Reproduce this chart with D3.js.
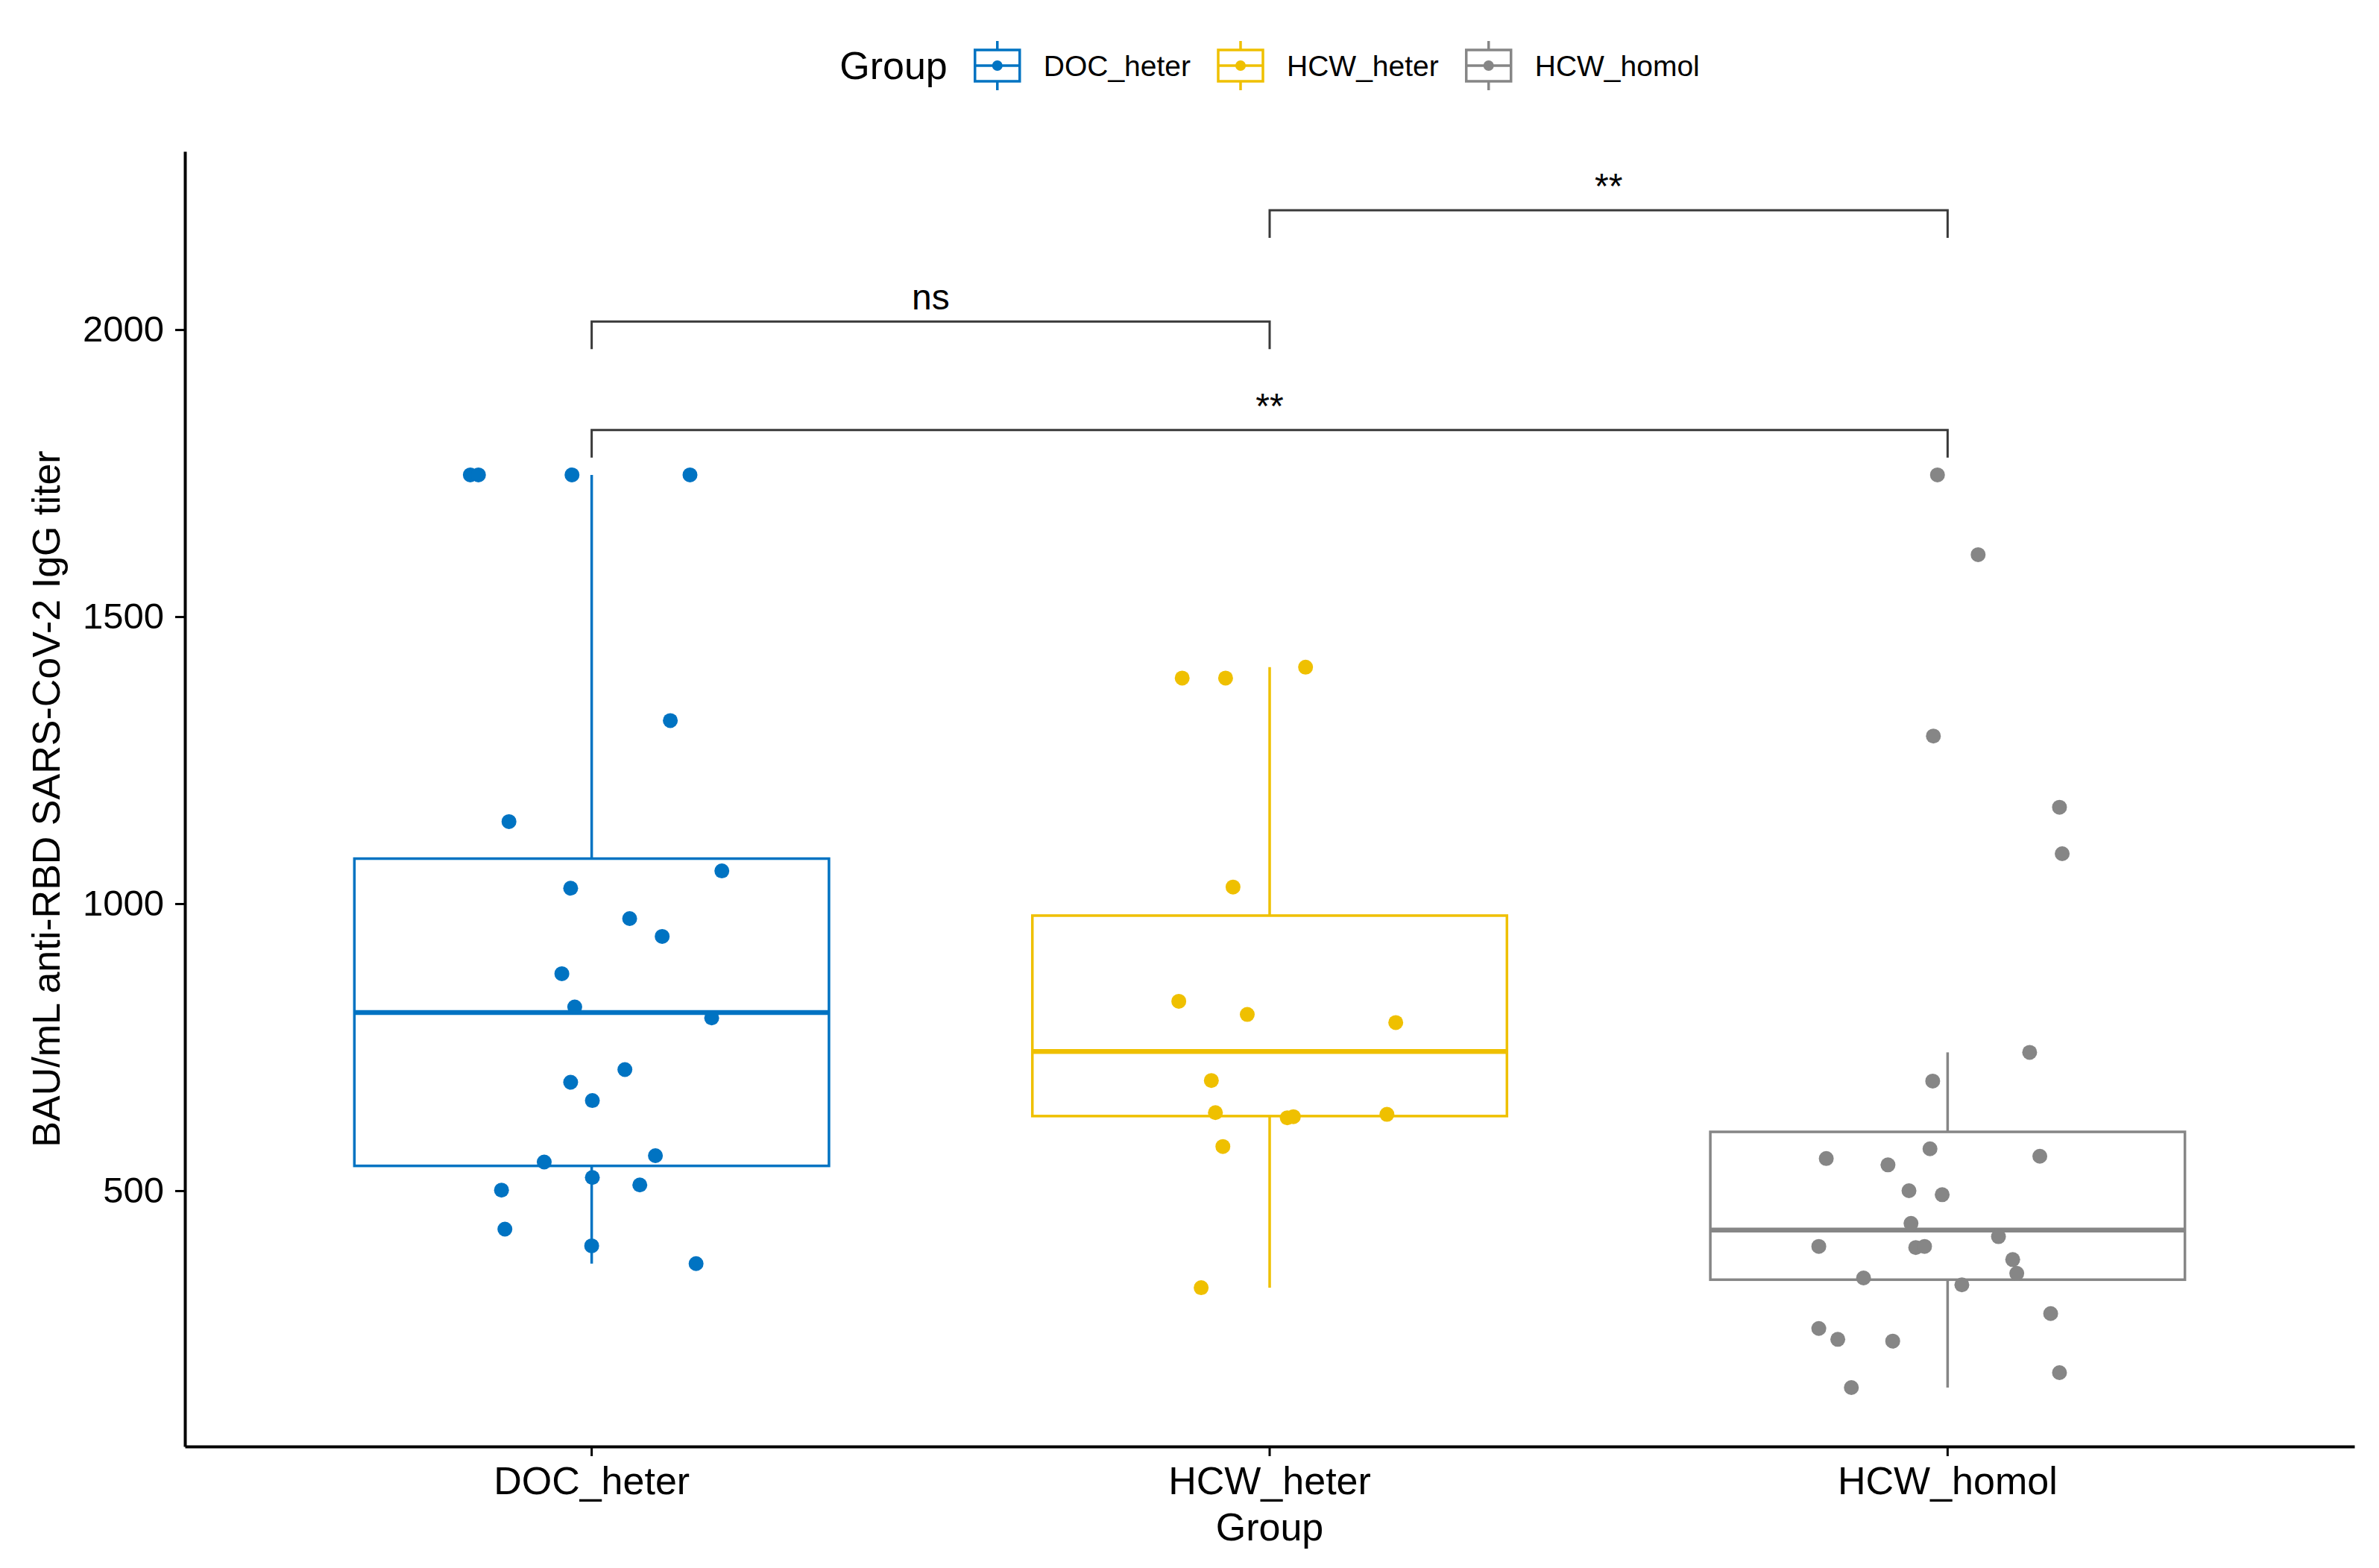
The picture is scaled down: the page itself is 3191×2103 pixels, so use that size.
<!DOCTYPE html>
<html>
<head>
<meta charset="utf-8">
<script src="https://cdn.jsdelivr.net/npm/d3@7/dist/d3.min.js"></script>
<style>
  body { margin: 0; background: #fff; }
  text { font-family: "Liberation Sans", Arial, Helvetica, sans-serif; fill: #000; }
</style>
</head>
<body>
<div class="box-chart"></div>
<script>
// groups and colours (ggsci jco)
const groups = ["DOC_heter", "HCW_heter", "HCW_homol"];
const groupColors = ["#0073C2", "#EFC000", "#868686"];

// titer values, with their horizontal jitter (fraction of a category step)
const docHeter = [1747, 1747, 1747, 1747, 1319, 1143, 1057, 1027, 974, 943, 878, 820, 801, 711, 689, 657, 561, 550, 523, 510, 501, 433, 404, 373];
const docJitter = [-0.179, -0.167, -0.029, 0.145, 0.116, -0.122, 0.192, -0.031, 0.056, 0.104, -0.044, -0.025, 0.177, 0.049, -0.031, 0.001, 0.094, -0.070, 0.001, 0.071, -0.133, -0.128, 0.000, 0.154];

const hcwHeter = [1412, 1393, 1393, 1029, 830, 807, 793, 692, 636, 627, 629, 633, 577, 331];
const hcwHeterJitter = [0.053, -0.129, -0.065, -0.054, -0.134, -0.033, 0.186, -0.086, -0.080, 0.026, 0.035, 0.173, -0.069, -0.101];

const hcwHomol = [1747, 1608, 1292, 1168, 1087, 741, 691, 556, 545, 573, 560, 500, 493, 443, 420, 403, 401, 403, 380, 356, 348, 336, 286, 260, 241, 238, 183, 157];
const hcwHomolJitter = [-0.015, 0.045, -0.021, 0.165, 0.169, 0.121, -0.022, -0.179, -0.088, -0.026, 0.136, -0.057, -0.008, -0.054, 0.075, -0.190, -0.047, -0.034, 0.096, 0.102, -0.124, 0.021, 0.152, -0.190, -0.162, -0.081, 0.165, -0.142];

const yTicks = [500, 1000, 1500, 2000];

// significance brackets
const bracketPairs = [["DOC_heter", "HCW_heter"], ["HCW_heter", "HCW_homol"], ["DOC_heter", "HCW_homol"]];
const bracketValues = [2014, 2208, 1825];
const bracketLabels = ["ns", "**", "**"];

const seriesValues = [docHeter, hcwHeter, hcwHomol];
const seriesJitter = [docJitter, hcwHeterJitter, hcwHomolJitter];

const W = 3191, H = 2103;
const margin = { top: 203, right: 33, bottom: 163, left: 248 };
const width = W - margin.left - margin.right;
const height = H - margin.top - margin.bottom;

const svg = d3.select(".box-chart")
  .append("svg")
  .attr("width", W)
  .attr("height", H);

svg.append("rect").attr("width", W).attr("height", H).attr("fill", "#fff");

const g = svg.append("g")
  .attr("transform", "translate(" + margin.left + "," + margin.top + ")");

const x = d3.scaleBand().domain(groups).range([0, width]).paddingInner(0).paddingOuter(0.1);
const step = x.step();
const cx = function (name) { return x(name) + x.bandwidth() / 2; };

// y range like ggplot: data + brackets, expanded 5%
const lo = d3.min(seriesValues, function (s) { return d3.min(s); });
const hi = d3.max(bracketValues);
const pad = (hi - lo) * 0.05;
const y = d3.scaleLinear().domain([lo - pad, hi + pad]).range([height, 0]);

// box stats
const stats = seriesValues.map(function (vals, i) {
  const s = vals.slice().sort(d3.ascending);
  const q1 = d3.quantile(s, 0.25), med = d3.quantile(s, 0.5), q3 = d3.quantile(s, 0.75);
  const iqr = q3 - q1;
  const wlo = d3.min(s.filter(function (v) { return v >= q1 - 1.5 * iqr; }));
  const whi = d3.max(s.filter(function (v) { return v <= q3 + 1.5 * iqr; }));
  return { name: groups[i], color: groupColors[i], q1: q1, med: med, q3: q3, wlo: wlo, whi: whi };
});

const boxW = step * 0.7;
const boxes = g.selectAll(".box").data(stats).enter().append("g").attr("class", "box");

boxes.append("line")
  .attr("x1", function (d) { return cx(d.name); })
  .attr("x2", function (d) { return cx(d.name); })
  .attr("y1", function (d) { return y(d.whi); })
  .attr("y2", function (d) { return y(d.q3); })
  .attr("stroke", function (d) { return d.color; })
  .attr("stroke-width", 3.5);

boxes.append("line")
  .attr("x1", function (d) { return cx(d.name); })
  .attr("x2", function (d) { return cx(d.name); })
  .attr("y1", function (d) { return y(d.q1); })
  .attr("y2", function (d) { return y(d.wlo); })
  .attr("stroke", function (d) { return d.color; })
  .attr("stroke-width", 3.5);

boxes.append("rect")
  .attr("x", function (d) { return cx(d.name) - boxW / 2; })
  .attr("width", boxW)
  .attr("y", function (d) { return y(d.q3); })
  .attr("height", function (d) { return y(d.q1) - y(d.q3); })
  .attr("fill", "#fff")
  .attr("stroke", function (d) { return d.color; })
  .attr("stroke-width", 3.5);

boxes.append("line")
  .attr("x1", function (d) { return cx(d.name) - boxW / 2; })
  .attr("x2", function (d) { return cx(d.name) + boxW / 2; })
  .attr("y1", function (d) { return y(d.med); })
  .attr("y2", function (d) { return y(d.med); })
  .attr("stroke", function (d) { return d.color; })
  .attr("stroke-width", 6.5);

// jittered points
const points = [];
seriesValues.forEach(function (vals, i) {
  vals.forEach(function (v, j) {
    points.push({ name: groups[i], color: groupColors[i], value: v, jit: seriesJitter[i][j] });
  });
});

g.selectAll(".dot").data(points).enter().append("circle")
  .attr("class", "dot")
  .attr("cx", function (d) { return cx(d.name) + d.jit * step; })
  .attr("cy", function (d) { return y(d.value); })
  .attr("r", 10)
  .attr("fill", function (d) { return d.color; });

// brackets
const tip = 37;
const brackets = g.selectAll(".bracket").data(bracketValues).enter().append("g").attr("class", "bracket");
brackets.append("path")
  .attr("d", function (v, i) {
    const a = cx(bracketPairs[i][0]), b = cx(bracketPairs[i][1]), yy = y(v);
    return "M" + a + "," + (yy + tip) + "V" + yy + "H" + b + "V" + (yy + tip);
  })
  .attr("fill", "none")
  .attr("stroke", "#3a3a3a")
  .attr("stroke-width", 3);
brackets.append("text")
  .attr("x", function (v, i) { return (cx(bracketPairs[i][0]) + cx(bracketPairs[i][1])) / 2; })
  .attr("y", function (v) { return y(v) - 16; })
  .attr("text-anchor", "middle")
  .style("font-size", "48px")
  .text(function (v, i) { return bracketLabels[i]; });

// axes
const xAxis = g.append("g")
  .attr("transform", "translate(0," + height + ")")
  .call(d3.axisBottom(x).tickSize(13).tickSizeOuter(0).tickPadding(14));
xAxis.selectAll("text").style("font-size", "52px").attr("fill", "#000");

const yAxis = g.append("g")
  .call(d3.axisLeft(y).tickValues(yTicks).tickFormat(d3.format("d")).tickSize(13).tickSizeOuter(0).tickPadding(15));
yAxis.selectAll("text").style("font-size", "49px").attr("fill", "#000");

[xAxis, yAxis].forEach(function (ax) {
  ax.select(".domain").attr("stroke", "#000").attr("stroke-width", 4);
  ax.selectAll(".tick line").attr("stroke", "#000").attr("stroke-width", 3);
});

// axis titles
svg.append("text")
  .attr("x", margin.left + width / 2)
  .attr("y", 2066)
  .attr("text-anchor", "middle")
  .style("font-size", "52px")
  .text("Group");

svg.append("text")
  .attr("transform", "translate(80," + (margin.top + height / 2) + ") rotate(-90)")
  .attr("text-anchor", "middle")
  .style("font-size", "52px")
  .text("BAU/mL anti-RBD SARS-CoV-2 IgG titer");

// legend on top, centred over the panel
const legend = svg.append("g").attr("class", "legend");
const ly = 88, keyW = 60, keyH = 42;
const gapKeyText = 32, gapItem = 37;
const title = legend.append("text")
  .attr("x", 0).attr("y", ly).attr("dy", "0.35em")
  .style("font-size", "52px")
  .text("Group");
let lx = title.node().getComputedTextLength() + gapItem;
groups.forEach(function (name, i) {
  const k = legend.append("g").attr("transform", "translate(" + lx + ",0)");
  const c = groupColors[i];
  k.append("line").attr("x1", keyW / 2).attr("x2", keyW / 2).attr("y1", ly - keyH / 2 - 12).attr("y2", ly + keyH / 2 + 12)
    .attr("stroke", c).attr("stroke-width", 3.5);
  k.append("rect").attr("x", 0).attr("y", ly - keyH / 2).attr("width", keyW).attr("height", keyH)
    .attr("fill", "#fff").attr("stroke", c).attr("stroke-width", 3.5);
  k.append("line").attr("x1", 0).attr("x2", keyW).attr("y1", ly).attr("y2", ly)
    .attr("stroke", c).attr("stroke-width", 3.5);
  k.append("circle").attr("cx", keyW / 2).attr("cy", ly).attr("r", 7).attr("fill", c);
  const t = legend.append("text")
    .attr("x", lx + keyW + gapKeyText).attr("y", ly).attr("dy", "0.35em")
    .style("font-size", "39px")
    .text(name);
  lx += keyW + gapKeyText + t.node().getComputedTextLength() + gapItem;
});
const legendW = lx - gapItem;
legend.attr("transform", "translate(" + (margin.left + width / 2 - legendW / 2) + ",0)");
</script>
</body>
</html>
